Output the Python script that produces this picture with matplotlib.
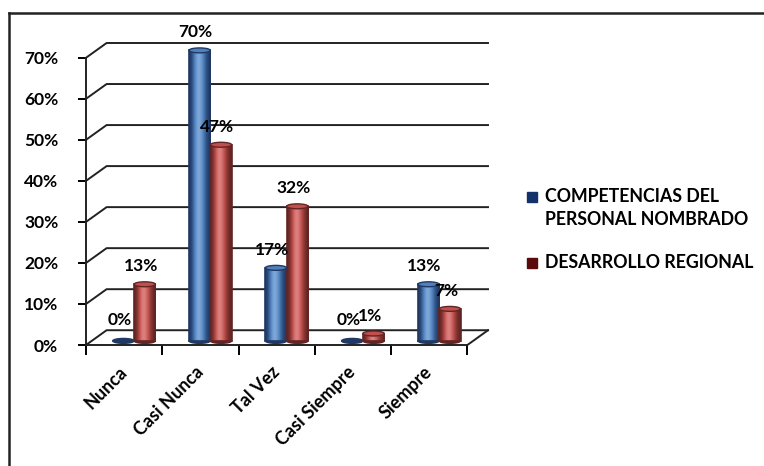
import numpy as np
import matplotlib.pyplot as plt
from matplotlib.colors import LinearSegmentedColormap
from matplotlib.patches import Ellipse, Rectangle
from matplotlib.lines import Line2D

categories = ["Nunca", "Casi Nunca", "Tal Vez", "Casi Siempre", "Siempre"]
competencias = [0, 70, 17, 0, 13]
desarrollo = [13, 47, 32, 1, 7]
series_names = ["COMPETENCIAS DEL\nPERSONAL NOMBRADO", "DESARROLLO REGIONAL"]
yticks = [0, 10, 20, 30, 40, 50, 60, 70]

plt.rcParams["font.family"] = ["Lato", "DejaVu Sans"]

# depth of the pseudo-3D box (x in categories, y in percent)
DX, DY = 0.27, 3.6
BAR_W = 0.28
CAP_H = 1.2

fig = plt.figure(figsize=(7.64, 4.66), dpi=100)
ax = fig.add_axes([86 / 764, 121 / 466, (488 - 86) / 764, (423 - 121) / 466])
n = len(categories)
x = np.arange(n)

# back wall grid with the diagonal connectors to the front axis
for y in yticks:
    ax.plot([-0.5, -0.5 + DX, n - 0.5 + DX], [y, y + DY, y + DY],
            color="#222222", lw=1.4, clip_on=False, zorder=1)
# floor right edge
ax.plot([n - 0.5, n - 0.5 + DX], [0, DY], color="#222222", lw=1.4,
        clip_on=False, zorder=1)

ax.spines[["top", "right"]].set_visible(False)
ax.spines["left"].set_bounds(0, yticks[-1])
ax.spines["bottom"].set_bounds(-0.5, n - 0.5)
for s in ("left", "bottom"):
    ax.spines[s].set_linewidth(1.4)
    ax.spines[s].set_color("#222222")

ax.set_yticks(yticks, [f"{v}%" for v in yticks])
ax.set_xticks(x + 0.08, categories, rotation=45, ha="right")
ax.set_xticks(np.arange(-0.5, n), minor=True)
ax.tick_params(axis="y", length=6, width=1.4, pad=14, labelsize=12.5)
ax.tick_params(axis="x", which="major", length=0, pad=13, labelsize=13)
ax.tick_params(axis="x", which="minor", length=7, width=1.4)
for lbl in ax.get_xticklabels() + ax.get_yticklabels():
    lbl.set_fontweight("bold")


def cylinder(xc, value, face, light, dark):
    bottom = DY / 2 - 0.8
    top = value + DY / 2
    # bottom disc, seen on its own when the value is zero
    ax.add_patch(Ellipse((xc, bottom), BAR_W, CAP_H, facecolor=dark,
                         edgecolor=dark, lw=1.0, zorder=2))
    if value <= 0:
        return
    rect = Rectangle((xc - BAR_W / 2, bottom), BAR_W, top - bottom,
                     facecolor="none", edgecolor=dark, lw=1.2, zorder=3)
    ax.add_patch(rect)
    grad = np.array([[0.0, 0.45, 1.0, 0.7, 0.25, 0.0]])
    cmap = LinearSegmentedColormap.from_list("c", [dark, face, light])
    im = ax.imshow(grad, cmap=cmap, aspect="auto", interpolation="bicubic",
                   extent=(xc - BAR_W / 2, xc + BAR_W / 2, bottom, top),
                   zorder=2)
    im.set_clip_path(rect)
    ax.add_patch(Ellipse((xc, top), BAR_W, CAP_H, facecolor=face,
                         edgecolor=dark, lw=1.0, zorder=4))


blue = ("#4F81BD", "#8DB3E2", "#1F3864")
red = ("#C0504D", "#E6908E", "#632523")
for i in range(n):
    xb, xr = x[i] - 0.01, x[i] + 0.27
    cylinder(xb, competencias[i], *blue)
    cylinder(xr, desarrollo[i], *red)
    for xc, v in ((xb, competencias[i]), (xr, desarrollo[i])):
        ax.annotate(f"{v}%", (xc, v + DY / 2), xytext=(-4, 18),
                    textcoords="offset pixels", ha="center", va="center",
                    fontsize=12.5, fontweight="bold", zorder=5)

ax.set_xlim(-0.5, n - 0.5 + DX)
ax.set_ylim(0, yticks[-1] + DY)

# legend: square key aligned with the first line of each entry
legend_colors = ["#13316B", "#5A0A0A"]
legend_rows = [197, 263]
for name, color, row in zip(series_names, legend_colors, legend_rows):
    yf = 1 - row / 466
    fig.add_artist(Rectangle((527 / 764, yf - 5 / 466), 10 / 764, 10 / 466,
                             facecolor=color, edgecolor=color,
                             transform=fig.transFigure))
    fig.text(545 / 764, yf + 9 / 466, name, ha="left", va="top",
             fontsize=12.8, fontweight="bold", linespacing=1.45)

# outer frame: top and left edges
fig.add_artist(Line2D([9 / 764, 9 / 764], [0, 1 - 13 / 466], color="#222222",
                      lw=1.8, transform=fig.transFigure))
fig.add_artist(Line2D([9 / 764, 1], [1 - 13 / 466, 1 - 13 / 466],
                      color="#222222", lw=1.8, transform=fig.transFigure))

fig.savefig("out.png", dpi=100)
